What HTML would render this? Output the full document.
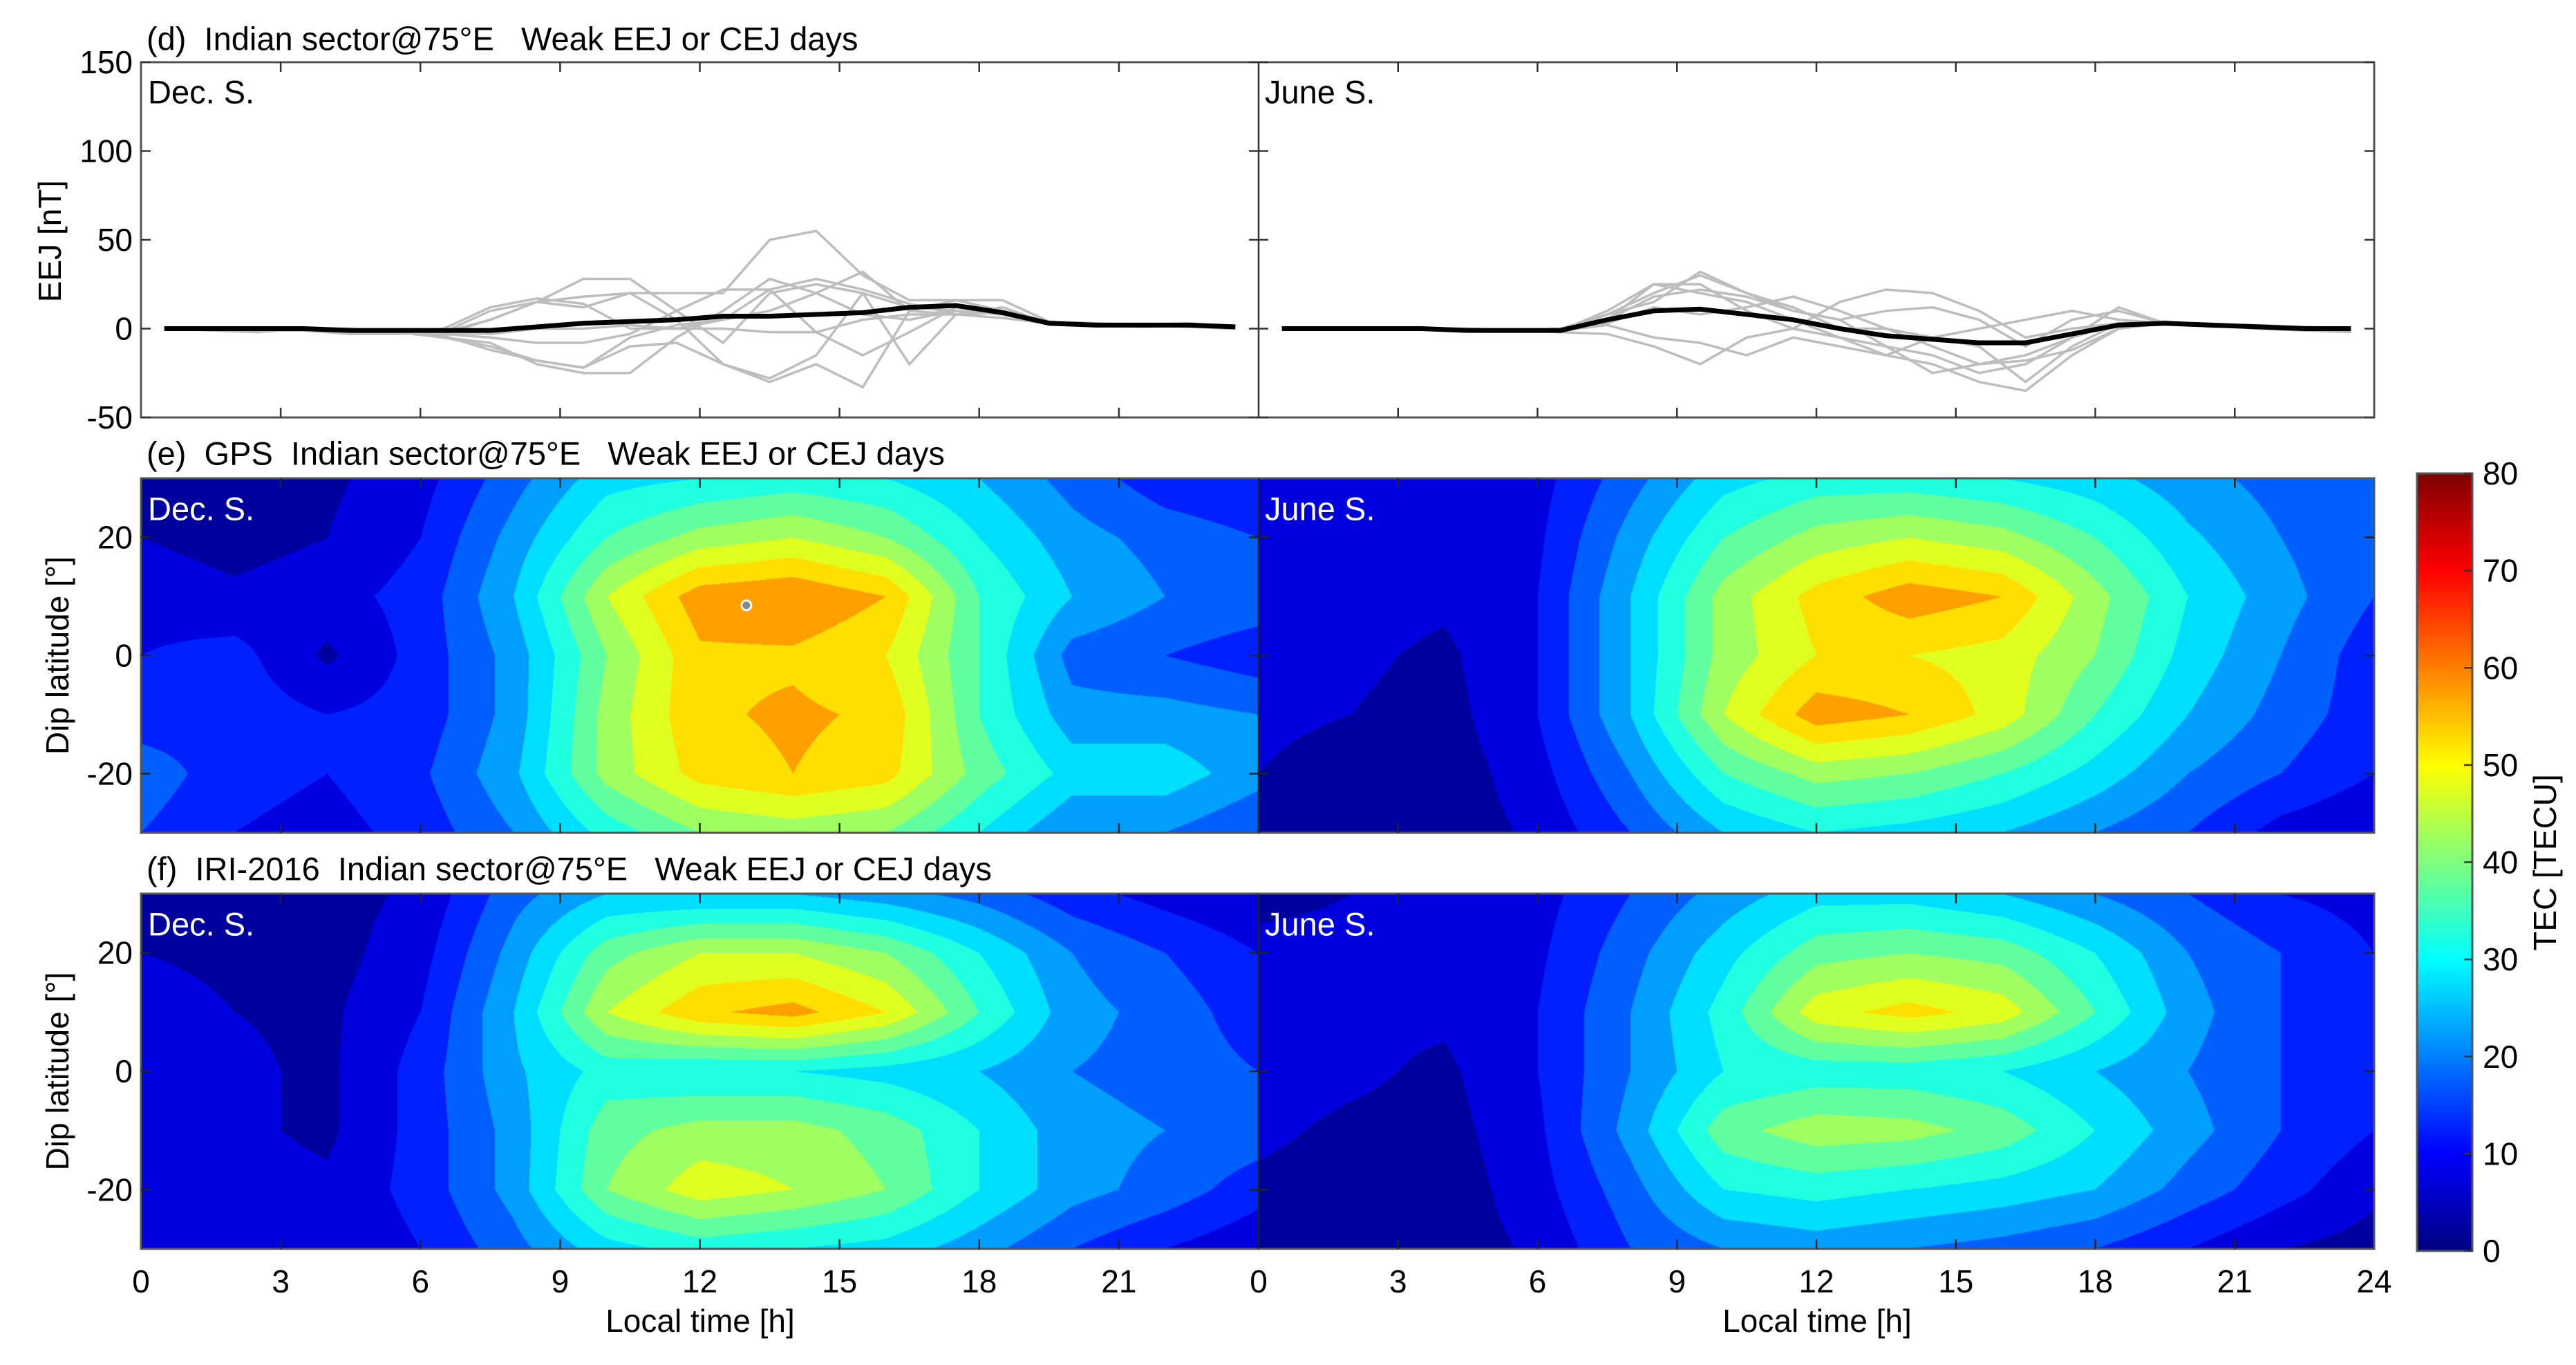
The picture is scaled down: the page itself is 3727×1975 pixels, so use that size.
<!DOCTYPE html>
<html><head><meta charset="utf-8"><style>
html,body{margin:0;padding:0;background:#fff;}
#root{position:relative;width:3727px;height:1975px;overflow:hidden;font-family:"Liberation Sans",Arial,sans-serif;}
canvas{position:absolute;}
svg{position:absolute;left:0;top:0;}
text{white-space:pre;}
</style></head><body>
<div id="root">
<canvas id="ce1" width="1617" height="513" style="left:204px;top:692px"></canvas>
<canvas id="ce2" width="1614" height="513" style="left:1821px;top:692px"></canvas>
<canvas id="cf1" width="1617" height="514" style="left:204px;top:1293px"></canvas>
<canvas id="cf2" width="1614" height="514" style="left:1821px;top:1293px"></canvas>
<canvas id="cbar" width="80" height="1125" style="left:3497px;top:685px"></canvas>
<svg id="svg" width="3727" height="1975" xmlns="http://www.w3.org/2000/svg"></svg>
</div>
<script>
// ---------- data ----------
const hours = [0.5,1.5,2.5,3.5,4.5,5.5,6.5,7.5,8.5,9.5,10.5,11.5,12.5,13.5,14.5,15.5,16.5,17.5,18.5,19.5,20.5,21.5,22.5,23.5];
const decMean = [0,0,0,0,-1,-1,-1,-1,1,3,4,5,7,7,8,9,12,13,9,3,2,2,2,1];
const junMean = [0,0,0,0,-1,-1,-1,5,10,11,8,5,0,-4,-6,-8,-8,-3,2,3,2,1,0,0];
const decDays = [
 [0,0,0,0,0,-2,-3,5,15,28,28,10,-8,20,25,20,12,10,8,3,2,2,2,1],
 [0,0,0,0,-1,-2,-5,-8,-20,-25,-25,-5,10,28,20,8,5,10,8,3,2,2,2,1],
 [0,0,-1,-1,-3,-3,-2,10,15,12,20,5,-20,-28,-15,20,-20,8,10,4,3,2,3,1],
 [0,0,0,0,-2,-3,-2,5,15,18,20,20,20,50,55,30,16,16,10,4,2,2,2,1],
 [0,0,0,0,-1,-2,-4,-12,-18,-22,-5,2,5,10,20,32,10,8,12,3,2,2,1,0],
 [0,-1,-2,0,-1,-1,-3,-5,-8,-8,-3,10,22,22,-2,-15,-2,12,8,3,2,1,2,1],
 [0,0,0,0,-2,-3,0,12,17,14,0,0,5,22,28,22,14,8,9,3,2,2,2,0],
 [0,0,0,0,-1,-1,-2,-3,0,0,2,0,0,-2,-2,5,8,8,6,3,2,2,1,0],
 [0,0,0,0,-1,-2,-5,-10,-18,-22,-10,-8,-20,-30,-20,-33,10,16,16,4,2,2,2,1]
];
const junDays = [
 [0,0,0,0,0,-1,0,8,20,30,20,10,5,10,12,5,-10,5,10,3,2,2,1,0],
 [0,0,0,0,-1,-1,-2,5,25,25,10,0,-5,-15,-20,-30,-35,-15,0,3,2,1,0,-1],
 [0,0,0,0,0,-1,-2,-3,-10,-20,-5,0,15,22,20,10,-5,0,3,3,2,1,0,0],
 [0,0,0,0,-1,-1,-1,10,25,20,15,5,-5,-10,-15,-25,-20,-5,3,3,2,0,-1,-1],
 [0,0,0,0,-1,-1,0,3,12,8,12,18,10,0,-10,-20,-18,-12,0,3,2,1,0,-1],
 [0,0,0,0,0,-1,0,5,18,22,18,10,5,-10,-25,-20,-15,-5,12,3,1,1,1,0],
 [0,0,0,0,-1,-1,-1,2,-5,-8,-15,-5,-10,-15,-5,0,5,10,5,3,2,0,-1,-2],
 [0,0,0,0,-1,-1,-2,8,15,32,20,12,0,0,-5,-10,-30,-10,3,4,2,1,0,-1]
];
const gridHours = [0,2,4,6,8,10,12,14,16,18,20,22,24];
const gridLats = [30,20,10,0,-10,-20,-30];
const gpsDec = [
 [3,2,4,8,18,28,30,32,30,25,18,12,10],
 [5,3,5,10,22,35,42,45,40,30,22,18,15],
 [8,6,8,12,25,45,58,60,55,35,25,20,18],
 [10,12,4,12,22,40,54,54,50,35,18,15,12],
 [12,13,10,12,22,42,54,56,54,35,22,22,20],
 [18,12,10,14,24,42,52,55,52,38,28,28,22],
 [15,10,8,12,20,32,40,42,40,30,20,20,15]
];
const gpsJun = [
 [8,7,5,8,18,28,32,32,30,27,22,18,15],
 [8,7,5,9,22,35,42,45,42,35,26,20,15],
 [8,7,6,10,25,42,52,58,55,42,30,22,15],
 [7,6,4,10,25,42,50,50,48,40,28,20,12],
 [6,5,3,10,25,45,58,55,48,35,25,18,12],
 [5,3,2,8,20,35,42,40,35,28,20,15,10],
 [3,2,2,6,15,25,30,28,25,20,15,8,5]
];
const iriDec = [
 [3,3,3,6,18,25,25,25,22,18,12,8,5],
 [5,4,3,8,22,38,45,45,40,30,20,15,10],
 [7,5,4,10,25,45,54,57,50,35,22,18,12],
 [9,6,4,12,24,32,30,30,28,25,20,18,15],
 [10,6,4,12,22,38,42,42,38,30,22,20,18],
 [10,7,6,12,22,40,48,45,40,30,22,18,12],
 [8,6,5,10,18,28,32,30,28,22,15,10,6]
];
const iriJun = [
 [4,5,6,8,15,22,28,28,25,20,15,10,8],
 [6,6,6,9,18,28,38,40,38,30,20,15,10],
 [7,6,6,10,20,32,48,52,48,35,22,15,10],
 [7,6,4,10,20,30,32,32,30,25,20,15,10],
 [6,4,3,9,22,38,43,42,38,30,22,15,10],
 [4,3,2,8,18,30,32,30,28,25,18,12,6],
 [3,2,2,6,15,20,22,20,18,15,10,5,3]
];
const eejTicks = [150,100,50,0,-50];
const latTicks = [20,0,-20];
const hourTicks = [0,3,6,9,12,15,18,21];
const cbTicks = [0,10,20,30,40,50,60,70,80];

// ---------- helpers ----------
const NS='http://www.w3.org/2000/svg';
const svg=document.getElementById('svg');
function mk(tag,attrs,parent){const e=document.createElementNS(NS,tag);for(const k in attrs)e.setAttribute(k,attrs[k]);(parent||svg).appendChild(e);return e;}
function txt(s,x,y,size,anchor,fill,name,rot){const e=mk('text',{x:x,y:y,'font-size':size,'text-anchor':anchor||'start','dominant-baseline':'central',fill:fill||'#000','font-family':'"Liberation Sans",Arial,sans-serif'});if(rot)e.setAttribute('transform','rotate(-90 '+x+' '+y+')');e.textContent=s;


return e;}
function clamp(v){return Math.max(0,Math.min(1,v));}
function jet(x){return [clamp(1.5-Math.abs(4*x-3)),clamp(1.5-Math.abs(4*x-2)),clamp(1.5-Math.abs(4*x-1))].map(v=>Math.round(v*255));}

const L=204, MID=1821, R=3435;
const halfW=[MID-L, R-MID];
function xh(h,half){return (half?MID:L)+h/24*halfW[half];}
const TF=47, TK=46;

// ---------- panel d ----------
const dT=90,dB=604;
function yE(v){return dT+(150-v)/200*(dB-dT);}
const gd=mk('g',{});


[[decDays,decMean,0],[junDays,junMean,1]].forEach(([days,mean,half])=>{
  days.forEach((d,i)=>{
    const p=mk('polyline',{points:d.map((v,j)=>xh(hours[j],half)+','+yE(v)).join(' '),fill:'none',stroke:'#bdbdbd','stroke-width':3.5},gd);
    
    
  });
  const m=mk('polyline',{points:mean.map((v,j)=>xh(hours[j],half)+','+yE(v)).join(' '),fill:'none',stroke:'#000','stroke-width':7},gd);
  
  
});
mk('rect',{x:L,y:dT,width:R-L,height:dB-dT,fill:'none',stroke:'#555','stroke-width':3});
mk('line',{x1:MID,y1:dT,x2:MID,y2:dB,stroke:'#333','stroke-width':2.5});
eejTicks.forEach(v=>{const y=yE(v);
  mk('line',{x1:L,y1:y,x2:L+14,y2:y,stroke:'#333','stroke-width':2.5});
  mk('line',{x1:MID-14,y1:y,x2:MID+14,y2:y,stroke:'#333','stroke-width':2.5});
  mk('line',{x1:R-14,y1:y,x2:R,y2:y,stroke:'#333','stroke-width':2.5});
  txt(String(v),192,y,TK,'end','#000','eej-tick-'+v);});
[0,1].forEach(half=>hourTicks.forEach(h=>{if(h===0)return;const x=xh(h,half);
  mk('line',{x1:x,y1:dT,x2:x,y2:dT+14,stroke:'#333','stroke-width':2.5});
  mk('line',{x1:x,y1:dB-14,x2:x,y2:dB,stroke:'#333','stroke-width':2.5});}));
txt('(d)  Indian sector@75°E   Weak EEJ or CEJ days',212,56,TF,'start','#000','panel-d-title');
txt('Dec. S.',214,133,TF,'start','#000','dec-label-d');
txt('June S.',1830,133,TF,'start','#000','june-label-d');
txt('EEJ [nT]',72,349,TK,'middle','#000','eej-axis-title',true);

// ---------- heatmaps ----------
function interp(grid,h,lat){
  let gi=Math.min(11,Math.max(0,Math.floor(h/2))); let fx=(h-gridHours[gi])/2;
  let li=Math.min(5,Math.max(0,Math.floor((30-lat)/10))); let fy=((30-lat)-(30-gridLats[li]))/10;
  const a=grid[li][gi],b=grid[li][gi+1],c=grid[li+1][gi],d=grid[li+1][gi+1];
  return a*(1-fx)*(1-fy)+b*fx*(1-fy)+c*(1-fx)*fy+d*fx*fy;
}
function drawHeat(id,grid){
  const cv=document.getElementById(id),ctx=cv.getContext('2d');
  const W=cv.width,H=cv.height,img=ctx.createImageData(W,H);
  for(let y=0;y<H;y++){const lat=30-60*y/(H-1);
    for(let x=0;x<W;x++){const h=24*x/(W-1);
      let v=interp(grid,h,lat);let lvl=Math.min(15,Math.max(0,Math.floor(v/5)));
      const c=jet((lvl*5+2.5)/80);const k=(y*W+x)*4;
      img.data[k]=c[0];img.data[k+1]=c[1];img.data[k+2]=c[2];img.data[k+3]=255;}}
  ctx.putImageData(img,0,0);
}
drawHeat('ce1',gpsDec);drawHeat('ce2',gpsJun);drawHeat('cf1',iriDec);drawHeat('cf2',iriJun);

function heatFrame(top,bot,title,tag){
  mk('rect',{x:L,y:top,width:R-L,height:bot-top,fill:'none',stroke:'#555','stroke-width':3});
  mk('line',{x1:MID,y1:top,x2:MID,y2:bot,stroke:'#222','stroke-width':2.5});
  latTicks.forEach(v=>{const y=top+(30-v)/60*(bot-top);
    mk('line',{x1:L,y1:y,x2:L+14,y2:y,stroke:'#222','stroke-width':2.5});
    mk('line',{x1:MID-14,y1:y,x2:MID+14,y2:y,stroke:'#222','stroke-width':2.5});
    mk('line',{x1:R-14,y1:y,x2:R,y2:y,stroke:'#222','stroke-width':2.5});
    txt(String(v),192,y,TK,'end','#000',tag+'-lat-tick-'+v);});
  [0,1].forEach(half=>hourTicks.forEach(h=>{if(h===0)return;const x=xh(h,half);
    mk('line',{x1:x,y1:top,x2:x,y2:top+14,stroke:'#222','stroke-width':2.5});
    mk('line',{x1:x,y1:bot-14,x2:x,y2:bot,stroke:'#222','stroke-width':2.5});}));
  txt(title,212,top-36,TF,'start','#000',tag+'-title');
  txt('Dec. S.',214,top+44,TF,'start','#fff',tag+'-dec-label');
  txt('June S.',1830,top+44,TF,'start','#fff',tag+'-june-label');
  txt('Dip latitude [°]',83,(top+bot)/2,TK,'middle','#000',tag+'-lat-axis-title',true);
}
heatFrame(692,1205,'(e)  GPS  Indian sector@75°E   Weak EEJ or CEJ days','panel-e');
heatFrame(1293,1807,'(f)  IRI-2016  Indian sector@75°E   Weak EEJ or CEJ days','panel-f');
const dot=mk('circle',{cx:xh(13,0),cy:692+(30-8.5)/60*513,r:7,fill:'#888',stroke:'#fff','stroke-width':3});



// x tick labels
[0,1].forEach(half=>{hourTicks.forEach(h=>txt(String(h),xh(h,half),1854,TK,'middle','#000','hour-tick-'+(half?'june-':'dec-')+h));});
txt('24',R,1854,TK,'middle','#000','hour-tick-june-24');
txt('Local time [h]',1013,1911,TK,'middle','#000','x-axis-title-dec');
txt('Local time [h]',2629,1911,TK,'middle','#000','x-axis-title-june');

// colorbar
(function(){const cv=document.getElementById('cbar'),ctx=cv.getContext('2d');
  for(let y=0;y<cv.height;y++){const c=jet(1-y/(cv.height-1));ctx.fillStyle='rgb('+c+')';ctx.fillRect(0,y,cv.width,1);}})();
mk('rect',{x:3497,y:685,width:80,height:1125,fill:'none',stroke:'#555','stroke-width':3});
cbTicks.forEach(v=>{const y=1810-v/80*1125;
  mk('line',{x1:3565,y1:y,x2:3577,y2:y,stroke:'#333','stroke-width':2.5});
  txt(String(v),3592,y,TK,'start','#000','colorbar-tick-'+v);});
txt('TEC [TECU]',3682,1248,TK,'middle','#000','colorbar-title',true);
</script>
</body></html>
